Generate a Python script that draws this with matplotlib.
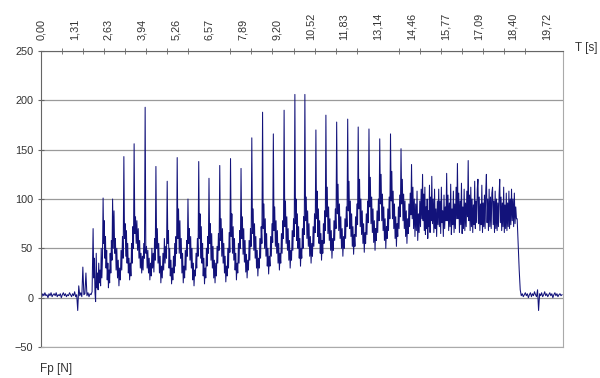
import numpy as np
import matplotlib
matplotlib.use("Agg")
import matplotlib.pyplot as plt

plt.rcParams['font.family'] = ['Liberation Sans', 'DejaVu Sans']

# x axis labels (time, s) as printed on the chart
tick_labels = ["0,00", "1,31", "2,63", "3,94", "5,26", "6,57", "7,89", "9,20",
               "10,52", "11,83", "13,14", "14,46", "15,77", "17,09", "18,40", "19,72"]
tick_step = 1.3145

# resting level before the load starts (0 .. 2.04 s)
pre_vals = [3, 1, 4, 2, 5, 2, 3, 0, 4, 2, 5, 1, 3, 4, 2, 5, 1, 3, 2, 4, 0, 3, 5, 2,
            4, 1, 3, 2, 5, 3, 1, 4, 2, 6, 1, 3, -13, 12, 2, 5, 1, 31, 3, 4, 25, 2,
            5, 1, 4, 3, 6]

# time of each force spike [s]
peak_t = [2.04, 2.43, 2.80, 3.24, 3.64, 4.07, 4.49, 4.93, 5.32, 5.74, 6.16, 6.56,
          6.98, 7.40, 7.81, 8.23, 8.65, 9.07, 9.49, 9.91, 10.30, 10.73, 11.12, 11.54,
          11.97, 12.38, 12.80, 13.22, 13.64, 14.05, 14.46, 14.89, 15.25, 15.52, 15.83,
          16.25, 16.67, 17.05, 17.38, 17.62, 17.90, 18.36]
drop_t = 18.58

# samples from each spike up to the next one [N]
cycle_vals = [
    [70, 20, 40, 5, -4, 45, 10, 25, 8, 35, 15, 28, 12, 50, 20, 40],
    [101, 55, 78, 40, 62, 30, 48, 18, 35, 10, 28, 15, 45, 25, 58, 38],
    [100, 50, 88, 45, 60, 28, 50, 20, 38, 12, 30, 18, 48, 28, 62, 40],
    [143, 60, 75, 42, 68, 35, 55, 25, 40, 18, 35, 22, 55, 35, 72, 50],
    [156, 65, 82, 55, 78, 48, 70, 40, 58, 30, 45, 25, 42, 28, 55, 40],
    [193, 45, 52, 30, 48, 25, 40, 18, 35, 22, 50, 30, 45, 26, 60, 38],
    [133, 50, 70, 35, 55, 25, 42, 15, 32, 20, 45, 28, 60, 35, 52, 40],
    [118, 55, 68, 30, 50, 22, 38, 14, 30, 18, 42, 25, 55, 32, 62, 45],
    [142, 60, 90, 45, 78, 40, 60, 25, 45, 15, 32, 20, 48, 28, 58, 42],
    [100, 55, 70, 38, 62, 30, 50, 18, 35, 12, 28, 22, 45, 30, 60, 42],
    [138, 60, 85, 40, 72, 35, 55, 22, 40, 14, 30, 20, 50, 32, 62, 45],
    [121, 55, 75, 38, 65, 30, 52, 20, 38, 15, 35, 22, 52, 35, 65, 48],
    [134, 58, 80, 42, 70, 35, 55, 25, 42, 16, 32, 22, 50, 30, 66, 46],
    [141, 62, 85, 45, 72, 38, 60, 28, 45, 18, 35, 25, 55, 35, 68, 50],
    [131, 60, 82, 44, 70, 36, 58, 26, 44, 20, 38, 28, 58, 38, 70, 52],
    [162, 65, 90, 48, 75, 40, 62, 30, 48, 22, 40, 30, 60, 40, 72, 55],
    [188, 70, 95, 50, 80, 42, 65, 32, 50, 24, 42, 32, 62, 42, 75, 56],
    [166, 68, 92, 52, 78, 45, 68, 35, 55, 28, 45, 35, 65, 45, 78, 60],
    [190, 72, 98, 55, 82, 48, 70, 38, 58, 30, 48, 38, 68, 48, 80, 62],
    [206, 75, 100, 58, 85, 50, 72, 40, 60, 32, 50, 40, 70, 50, 82, 64],
    [206, 78, 102, 60, 88, 52, 75, 42, 62, 35, 55, 42, 72, 52, 85, 66],
    [170, 80, 108, 62, 90, 55, 78, 45, 65, 38, 58, 45, 75, 55, 88, 68],
    [185, 82, 112, 65, 92, 58, 80, 48, 68, 40, 60, 48, 78, 58, 90, 70],
    [178, 85, 115, 68, 95, 60, 82, 50, 70, 42, 62, 50, 80, 60, 92, 72],
    [181, 88, 118, 70, 98, 62, 85, 52, 72, 44, 64, 52, 82, 62, 95, 74],
    [173, 90, 120, 72, 100, 64, 88, 55, 75, 46, 66, 55, 85, 64, 98, 76],
    [171, 92, 122, 75, 102, 66, 90, 56, 78, 48, 70, 58, 88, 66, 100, 78],
    [161, 95, 125, 78, 105, 68, 92, 58, 80, 50, 72, 60, 90, 68, 102, 80],
    [166, 98, 128, 80, 108, 70, 95, 60, 82, 52, 75, 62, 92, 70, 104, 82],
    [151, 95, 120, 78, 105, 70, 98, 62, 88, 55, 80, 65, 95, 72, 106, 84],
    [135, 80, 112, 70, 100, 62, 95, 68, 108, 58, 85, 66, 98, 72, 110, 80],
    [125, 78, 105, 68, 112, 64, 92, 70, 100, 60, 88, 72, 114, 66, 102, 78],
    [123, 75, 100, 66, 110, 70, 90, 62, 98, 74],
    [110, 72, 98, 65, 112, 76, 88, 62, 104, 70, 92, 78],
    [126, 78, 104, 68, 96, 72, 115, 64, 90, 74, 108, 66, 95, 70, 112, 80],
    [136, 80, 106, 66, 98, 74, 116, 65, 92, 70, 110, 68, 96, 72, 108, 82],
    [139, 78, 104, 68, 112, 72, 100, 66, 94, 74, 118, 70, 98, 76, 110],
    [120, 75, 102, 68, 95, 74, 114, 66, 96, 72, 104, 70, 108],
    [125, 76, 100, 68, 110, 72, 102, 70, 106],
    [112, 74, 98, 66, 108, 70, 100, 68, 96, 72, 104],
    [120, 76, 102, 68, 96, 72, 112, 66, 94, 70, 106, 68, 96, 72, 108, 70, 100, 74],
    [110, 78, 100, 72, 106, 75, 92, 80],
]

# unloading and rest after 18.58 s
post_vals = [80, 55, 28, 8, 2, 4, 1, 3, 5, 2, 4, 0, 3, 5, 1, 4, 2, 6, 3, 1, 8, -13,
             4, 2, 5, 1, 3, 6, 2, 4, 1, 3, 5, 2, 4, 0, 3, 5, 2, 4, 1, 3, 4, 2, 3]
t_end = 20.33

# build time axis segment by segment
t_parts = [np.linspace(0, peak_t[0], len(pre_vals) + 1)[:-1]]
v_parts = [np.array(pre_vals, dtype=float)]
bounds = peak_t + [drop_t]
for i, vals in enumerate(cycle_vals):
    t_parts.append(np.linspace(bounds[i], bounds[i + 1], len(vals) + 1)[:-1])
    v_parts.append(np.array(vals, dtype=float))
t_parts.append(np.linspace(drop_t, t_end, len(post_vals)))
v_parts.append(np.array(post_vals, dtype=float))
t = np.concatenate(t_parts)
force = np.concatenate(v_parts)

fig = plt.figure(figsize=(6, 3.78), dpi=100)
ax = fig.add_axes([0.068, 0.082, 0.87, 0.783])

ax.plot(t, force, color='#12127a', linewidth=0.75)

ax.set_xlim(0, 20.36)
ax.set_ylim(-50, 250)
ax.set_yticks(np.arange(-50, 251, 50))
ax.yaxis.grid(True, color='#9a9a9a', linewidth=0.9)
ax.set_axisbelow(True)

ax.xaxis.tick_top()
ax.set_xticks(np.arange(len(tick_labels)) * tick_step)
ax.set_xticklabels(tick_labels, rotation=90)
ax.set_xticks(np.arange(0, 20.4, tick_step / 1.6), minor=True)
ax.tick_params(axis='x', which='major', length=0, pad=8, labelsize=7.8, labelcolor='#333333')
ax.tick_params(axis='x', which='minor', length=5, direction='inout', color='#666666')
ax.tick_params(axis='y', length=4, direction='inout', color='#666666',
               labelsize=7.8, labelcolor='#333333')

for side in ['left', 'top']:
    ax.spines[side].set_color('#666666')
for side in ['right', 'bottom']:
    ax.spines[side].set_color('#aaaaaa')

fig.text(0.958, 0.872, "T [s]", fontsize=8.5, color='#333333', ha='left', va='center')
fig.text(0.066, 0.025, "Fp [N]", fontsize=8.5, color='#333333', ha='left', va='center')

fig.savefig("out.png", dpi=100)
